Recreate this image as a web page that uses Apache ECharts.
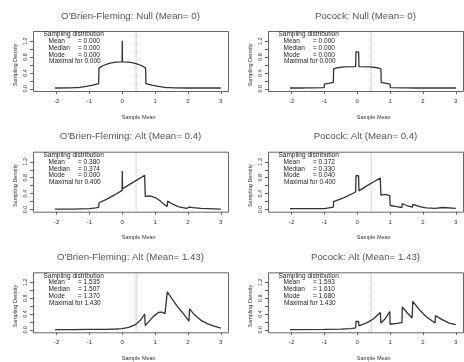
<!DOCTYPE html>
<html>
<head>
<meta charset="utf-8">
<script src="https://cdn.jsdelivr.net/npm/echarts@6/dist/echarts.min.js"></script>
<style>
html, body { margin: 0; padding: 0; background: #fff; }
#main { width: 464px; height: 362px; }
</style>
</head>
<body>
<div id="main"></div>
<script>
// panel titles, row by row
var titles = [
  "O'Brien-Fleming: Null (Mean= 0)", 'Pocock: Null (Mean= 0)',
  "O'Brien-Fleming: Alt (Mean= 0.4)", 'Pocock: Alt (Mean= 0.4)',
  "O'Brien-Fleming: Alt (Mean= 1.43)", 'Pocock: Alt (Mean= 1.43)'
];
var statMean    = ['0.000', '0.000', '0.380', '0.372', '1.535', '1.593'];
var statMedian  = ['0.000', '0.000', '0.374', '0.330', '1.507', '1.610'];
var statMode    = ['0.000', '0.000', '0.000', '0.040', '1.370', '1.680'];
var statMaximal = ['0.000', '0.000', '0.400', '0.400', '1.430', '1.430'];

var meanLine = 0.42;
var yLabels = ['0.0', '0.4', '0.8', '1.2'];

// sampling densities [sample mean, density]
var obfNull = [[-2.5,0.02],[-2.0,0.02],[-1.6,0.025],[-1.42,0.03],[-1.38,0.055],[-1.34,0.03],[-1.1,0.06],[-0.9,0.09],[-0.72,0.13],
  [-0.71,0.52],[-0.6,0.58],[-0.4,0.64],[-0.2,0.67],[-0.006,0.68],[0,1.21],[0.006,0.68],[0.2,0.67],[0.4,0.64],[0.6,0.58],[0.71,0.52],
  [0.72,0.13],[0.9,0.09],[1.1,0.06],[1.34,0.03],[1.38,0.055],[1.42,0.03],[1.6,0.025],[2.0,0.02],[2.5,0.02],[3.0,0.02]];
var pocNull = [[-2.5,0.02],[-1.85,0.02],[-1.8,0.04],[-1.75,0.02],[-1.5,0.025],[-1.45,0.035],[-1.4,0.025],[-1.01,0.03],[-1.0,0.12],
  [-0.73,0.16],[-0.72,0.5],[-0.6,0.53],[-0.4,0.55],[-0.05,0.56],[-0.04,0.93],[0.04,0.93],[0.05,0.56],[0.4,0.55],[0.6,0.53],[0.72,0.5],
  [0.73,0.16],[1.0,0.12],[1.01,0.03],[1.4,0.025],[1.45,0.035],[1.5,0.025],[1.75,0.02],[1.8,0.04],[1.85,0.02],[2.4,0.02],[2.45,0.035],
  [2.5,0.02],[3.0,0.02]];
var obfAlt04 = [[-2.5,0.01],[-1.5,0.01],[-1.0,0.02],[-0.8,0.04],[-0.72,0.06],[-0.71,0.17],[-0.5,0.25],[-0.25,0.36],[-0.006,0.48],
  [0,0.97],[0.006,0.52],[0.2,0.62],[0.4,0.72],[0.6,0.82],[0.68,0.86],[0.70,0.33],[0.85,0.34],[1.0,0.3],[1.15,0.22],[1.3,0.11],
  [1.37,0.08],[1.38,0.21],[1.5,0.15],[1.7,0.07],[1.95,0.03],[2.05,0.06],[2.15,0.045],[2.4,0.03],[2.42,0.01],[3.0,0.01]];
var pocAlt04 = [[-2.5,0.02],[-1.0,0.02],[-0.99,0.05],[-0.73,0.06],[-0.72,0.2],[-0.4,0.3],[-0.05,0.44],[-0.04,0.85],[0.04,0.85],
  [0.05,0.47],[0.3,0.6],[0.5,0.7],[0.7,0.79],[0.72,0.36],[0.85,0.38],[0.99,0.35],[1.0,0.1],[1.2,0.07],[1.36,0.05],[1.37,0.15],
  [1.5,0.1],[1.68,0.06],[1.69,0.13],[1.9,0.07],[2.1,0.04],[2.37,0.03],[2.38,0.08],[2.6,0.05],[3.0,0.03]];
var obfAlt143 = [[-2.5,0.005],[-1.5,0.005],[-1.0,0.008],[-0.5,0.012],[-0.2,0.02],[-0.01,0.03],[0,0.07],[0.01,0.035],[0.2,0.06],
  [0.4,0.13],[0.55,0.24],[0.68,0.4],[0.70,0.11],[0.8,0.2],[0.95,0.34],[1.1,0.44],[1.2,0.45],[1.3,0.41],[1.36,0.37],[1.37,0.96],
  [1.5,0.8],[1.67,0.6],[1.85,0.42],[2.03,0.22],[2.05,0.53],[2.2,0.38],[2.4,0.24],[2.6,0.15],[2.8,0.09],[3.0,0.04]];
var pocAlt143 = [[-2.5,0.005],[-1.0,0.008],[-0.5,0.015],[-0.2,0.03],[-0.05,0.05],[-0.04,0.21],[0.04,0.21],[0.05,0.1],[0.3,0.18],
  [0.5,0.28],[0.7,0.44],[0.72,0.17],[0.85,0.28],[0.99,0.46],[1.0,0.14],[1.2,0.16],[1.36,0.18],[1.37,0.58],[1.5,0.45],[1.67,0.3],
  [1.69,0.72],[1.9,0.5],[2.1,0.33],[2.37,0.17],[2.38,0.36],[2.6,0.25],[2.8,0.17],[3.0,0.13]];

var curves = [obfNull, pocNull, obfAlt04, pocAlt04, obfAlt143, pocAlt143];

var chart = echarts.init(document.getElementById('main'));
var font = 'Liberation Sans, Arial, sans-serif';

// plot box of each panel (R pads the data range by 4%)
var colLeft = [33, 268], rowTop = [31, 151.7, 272.3];
var boxW = 195, boxH = 60;
var xLo = -2.72, xHi = 3.22, yLo = -0.056, yHi = 1.456;
var sx = boxW / (xHi - xLo), sy = boxH / (yHi - yLo);

var grids = [], xAxes = [], yAxes = [], series = [], graphics = [];

for (var i = 0; i < curves.length; i++) {
  var bx = colLeft[i % 2], by = rowTop[Math.floor(i / 2)];
  // inner grid spans exactly the tick range -2..3 and 0..1.2; axes are pushed out to the box
  var gl = bx + (-2 - xLo) * sx, gt = by + (yHi - 1.2) * sy;
  var offX = by + boxH - (gt + 1.2 * sy), offY = gl - bx;
  grids.push({ left: gl, top: gt, width: 5 * sx, height: 1.2 * sy });
  xAxes.push({
    type: 'value', gridIndex: i, min: -2, max: 3, interval: 1, offset: offX,
    name: 'Sample Mean', nameLocation: 'middle', nameGap: 23,
    nameTextStyle: { fontSize: 5.5, color: '#333', fontFamily: font },
    axisLine: { show: false, onZero: false },
    axisTick: { show: true, length: 3, lineStyle: { color: '#666' } },
    axisLabel: { fontSize: 6, color: '#333', margin: 7.5, fontFamily: font,
      formatter: function (v) { return String(v); } },
    splitLine: { show: false }
  });
  yAxes.push({
    type: 'value', gridIndex: i, min: 0, max: 1.2, interval: 0.2, offset: offY,
    name: 'Sampling Density', nameLocation: 'middle', nameGap: 15,
    nameTextStyle: { fontSize: 5.5, color: '#333', fontFamily: font },
    axisLine: { show: false, onZero: false },
    axisTick: { show: true, length: 3, lineStyle: { color: '#666' } },
    axisLabel: { rotate: 90, fontSize: 5.5, color: '#333', margin: 5, fontFamily: font,
      formatter: function (v) {
        var s = v.toFixed(1);
        return yLabels.indexOf(s) >= 0 ? s : '';
      } },
    splitLine: { show: false }
  });
  series.push({
    type: 'line', xAxisIndex: i, yAxisIndex: i, data: curves[i],
    showSymbol: false, silent: true, clip: false,
    lineStyle: { color: '#333', width: 1.3 }
  });
  series.push({
    type: 'line', xAxisIndex: i, yAxisIndex: i, data: [[meanLine, yLo], [meanLine, yHi]],
    showSymbol: false, silent: true, clip: false, z: 1,
    lineStyle: { color: '#aaa', width: 1, type: 'dotted' }
  });

  graphics.push({ type: 'rect', shape: { x: bx + 0.5, y: by + 0.5, width: boxW, height: boxH },
    style: { fill: null, stroke: '#666', lineWidth: 1 }, silent: true });
  graphics.push({ type: 'text', x: bx + boxW / 2, y: by - 15,
    style: { text: titles[i], fontSize: 9.7, fill: '#555', fontFamily: font, align: 'center', verticalAlign: 'middle' } });

  var ty = by + 3.7, dy = 6.7;
  var rows = [['Sampling distribution', null, 10.5],
              ['Mean', '= ' + statMean[i], 15.5],
              ['Median', '= ' + statMedian[i], 15.5],
              ['Mode', '= ' + statMode[i], 15.5],
              ['Maximal for ' + statMaximal[i], null, 16]];
  for (var r = 0; r < rows.length; r++) {
    graphics.push({ type: 'text', x: bx + rows[r][2], y: ty + r * dy,
      style: { text: rows[r][0], fontSize: 6.5, fill: '#222', fontFamily: font, verticalAlign: 'middle' } });
    if (rows[r][1]) {
      graphics.push({ type: 'text', x: bx + 45, y: ty + r * dy,
        style: { text: rows[r][1], fontSize: 6.5, fill: '#222', fontFamily: font, verticalAlign: 'middle' } });
    }
  }
}

chart.setOption({
  animation: false,
  grid: grids,
  xAxis: xAxes,
  yAxis: yAxes,
  series: series,
  graphic: graphics
});
</script>
</body>
</html>
